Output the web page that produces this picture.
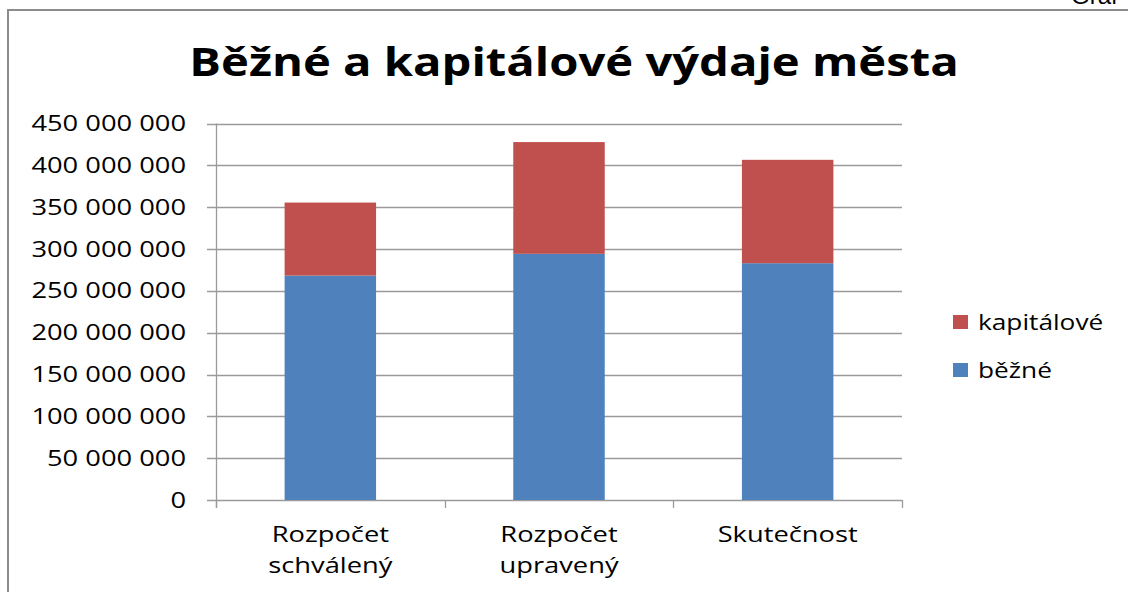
<!DOCTYPE html>
<html>
<head>
<meta charset="utf-8">
<script src="https://cdn.jsdelivr.net/npm/d3@7"></script>
<style>
	body { margin: 0; background: #fff; overflow: hidden; }
	svg { display: block; }
	.tick-label, .cat-label, .legend-label { font-family: "Open Sans", sans-serif; fill: #000; }
</style>
</head>
<body>
<div id="chart"></div>
<script>
// data
const categories = [["Rozpočet", "schválený"], ["Rozpočet", "upravený"], ["Skutečnost"]];
const bezne = [268300000, 294300000, 283100000];
const kapitalove = [87300000, 133600000, 123600000];
const seriesNames = ["běžné", "kapitálové"];
const seriesColors = ["#4F81BD", "#C0504D"];
const tickValues = [0, 50000000, 100000000, 150000000, 200000000, 250000000, 300000000, 350000000, 400000000, 450000000];

const width = 1128;
const height = 592;
const margin = { top: 123.6, right: 226, bottom: 92, left: 216 };
// the source picture is stretched horizontally
const stretch = 1.3;

const svg = d3
	.select("#chart")
	.append("svg")
	.attr("width", width)
	.attr("height", height);

// outer frame (cut off by window)
svg.append("rect")
	.attr("x", 8)
	.attr("y", 10)
	.attr("width", 1200)
	.attr("height", 700)
	.attr("fill", "none")
	.attr("stroke", "#8c8c8c")
	.attr("stroke-width", 2);

// caption above frame, cut off like in the source
svg.append("text")
	.attr("x", 1071)
	.attr("y", 4)
	.attr("font-family", "Liberation Sans, Arial, sans-serif")
	.attr("font-size", 24)
	.text("Graf");

// title
svg.append("text")
	.attr("transform", "translate(574,76) scale(1.18,1)")
	.attr("text-anchor", "middle")
	.attr("font-family", "Open Sans, sans-serif")
	.attr("font-weight", "bold")
	.attr("font-size", 40)
	.text("Běžné a kapitálové výdaje města");

// scales
const xScale = d3
	.scaleBand()
	.domain(d3.range(categories.length))
	.range([margin.left, width - margin.right])
	.paddingInner(0.6)
	.paddingOuter(0.3);

const yScale = d3
	.scaleLinear()
	.domain([0, 450000000])
	.range([height - margin.bottom, margin.top]);

// grid lines
svg.selectAll(".grid")
	.data(tickValues)
	.enter()
	.append("line")
	.attr("x1", margin.left - 9)
	.attr("x2", width - margin.right)
	.attr("y1", (d) => Math.round(yScale(d)) + 0.5)
	.attr("y2", (d) => Math.round(yScale(d)) + 0.5)
	.attr("stroke", "#9a9a9a")
	.attr("stroke-width", 1.3);

// stacked bars
const stack = d3.stack().keys([0, 1]).value((d, k) => d[k]);
const stacked = stack(d3.range(categories.length).map((i) => [bezne[i], kapitalove[i]]));

stacked.forEach((layer, k) => {
	svg.selectAll(".bar-" + k)
		.data(layer)
		.enter()
		.append("rect")
		.attr("x", (d, i) => xScale(i))
		.attr("width", xScale.bandwidth())
		.attr("y", (d) => yScale(d[1]))
		.attr("height", (d) => yScale(d[0]) - yScale(d[1]))
		.attr("fill", seriesColors[k]);
});

// y axis line
svg.append("line")
	.attr("x1", margin.left + 0.5)
	.attr("x2", margin.left + 0.5)
	.attr("y1", margin.top)
	.attr("y2", height - margin.bottom + 8)
	.attr("stroke", "#9a9a9a")
	.attr("stroke-width", 1.3);

// x axis ticks between categories
const step = xScale.step();
d3.range(categories.length + 1).forEach((i) => {
	const x = Math.round(margin.left + i * step) + 0.5;
	svg.append("line")
		.attr("x1", x)
		.attr("x2", x)
		.attr("y1", height - margin.bottom)
		.attr("y2", height - margin.bottom + 8)
		.attr("stroke", "#9a9a9a")
		.attr("stroke-width", 1.3);
});

// y tick labels
const fmt = (d) => d3.format(",")(d).replace(/,/g, " ");
svg.selectAll(".tick-label")
	.data(tickValues)
	.enter()
	.append("text")
	.attr("class", "tick-label")
	.attr("transform", (d) => `translate(186,${yScale(d)}) scale(${stretch},1)`)
	.attr("dy", "0.36em")
	.attr("text-anchor", "end")
	.attr("font-size", 21)
	.text(fmt);

// category labels
categories.forEach((lines, i) => {
	const cx = xScale(i) + xScale.bandwidth() / 2;
	const t = svg.append("text")
		.attr("class", "cat-label")
		.attr("transform", `translate(${cx},542) scale(${stretch},1)`)
		.attr("text-anchor", "middle")
		.attr("font-size", 21);
	lines.forEach((line, j) => {
		t.append("tspan")
			.attr("x", 0)
			.attr("dy", j === 0 ? 0 : 31)
			.text(line);
	});
});

// legend
const legendOrder = [1, 0];
legendOrder.forEach((k, j) => {
	const y = 322 + j * 48;
	svg.append("rect")
		.attr("x", 953)
		.attr("y", y - 7)
		.attr("width", 15)
		.attr("height", 14)
		.attr("fill", seriesColors[k]);
	svg.append("text")
		.attr("class", "legend-label")
		.attr("transform", `translate(978,${y}) scale(1.25,1)`)
		.attr("dy", "0.36em")
		.attr("font-size", 21)
		.text(seriesNames[k]);
});
</script>
</body>
</html>
